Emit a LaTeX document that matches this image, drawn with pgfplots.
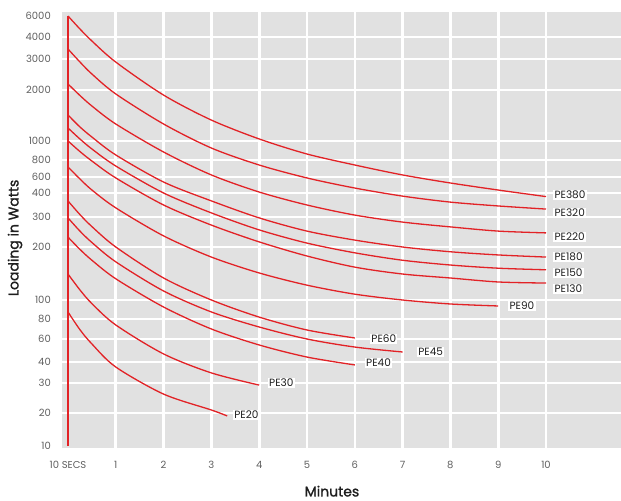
\documentclass[border=0pt]{standalone}
\usepackage{pgfplots}
\pgfplotsset{compat=1.18}
\usepackage{pgfplotstable}
\usepackage{fontspec}
\setmainfont{Poppins}
\newfontfamily\labelfont{Poppins}[FakeBold=1.2]

\definecolor{curve}{RGB}{226,34,38}
\definecolor{panel}{RGB}{225,225,225}
\definecolor{ticktext}{RGB}{95,95,95}
\definecolor{labeltext}{RGB}{30,30,30}

% loading (W) against time (min), one table per element
\pgfplotstableread{
t W
0 6000
0.25 4762
0.5 3818
1 2900
2 1900
3 1410
4 1040
5 863
6 741
7 624
8 525
9 437
10 385
}\peA
\pgfplotstableread{
t W
0 3455
0.25 2903
0.5 2516
1 1922
2 1333
3 926
4 741
5 588
6 462
7 387
8 362
9 346
10 333
}\peB
\pgfplotstableread{
t W
0 2194
0.25 1892
0.5 1686
1 1333
2 884
3 624
4 412
5 350
6 308
7 283
8 267
9 253
10 247
}\peC
\pgfplotstableread{
t W
0 1510
0.25 1275
0.5 1078
1 853
2 537
3 367
4 297
5 253
6 223
7 200
8 191
9 185
10 181
}\peD
\pgfplotstableread{
t W
0 1255
0.25 1039
0.5 916
1 729
2 400
3 317
4 257
5 213
6 189
7 175
8 166
9 160
10 157
}\peE
\pgfplotstableread{
t W
0 1000
0.25 889
0.5 788
1 588
2 350
3 273
4 217
5 183
6 162
7 149
8 141.5
9 134
10 132
}\peF
\pgfplotstableread{
t W
0 718
0.25 575
0.5 437.5
1 338
2 237
3 181
4 151
5 128
6 111
7 100
8 95.8
9 93.7
}\peG
\pgfplotstableread{
t W
0 367
0.25 310
0.5 268
1 200
2 141.5
3 100
4 82
5 69
6 61
}\peH
\pgfplotstableread{
t W
0 297
0.25 253
0.5 215
1 172
2 117
3 87.4
4 72
5 60
6 53
7 48.7
}\peI
\pgfplotstableread{
t W
0 233
0.25 195.5
0.5 175
1 140
2 92.6
3 70
4 54.8
5 44.3
6 38.6
}\peJ
\pgfplotstableread{
t W
0 149
0.25 119
0.5 96.2
1 74
2 47
3 34.8
4 29.3
}\peK
\pgfplotstableread{
t W
0 87.4
0.25 69.3
0.5 55.7
1 37.6
2 26.3
3 21
3.33 19.1
}\peL
\pgfplotstableread{
t W
0 10
0 6000
}\axisline

\begin{document}
\begin{tikzpicture}[
  % the printed scale is uneven: piecewise linear between the labelled values
  declare function={wpos(\w)=3.3*(min(max(\w,10),20)-10)+3*(min(max(\w,20),30)-20)
    +2.1*(min(max(\w,30),40)-30)+1.15*(min(max(\w,40),60)-40)
    +1*(min(max(\w,60),80)-60)+0.95*(min(max(\w,80),100)-80)
    +0.53*(min(max(\w,100),200)-100)+0.3*(min(max(\w,200),300)-200)
    +0.24*(min(max(\w,300),400)-300)+0.08*(min(max(\w,400),600)-400)
    +0.085*(min(max(\w,600),800)-600)+0.095*(min(max(\w,800),1000)-800)
    +0.051*(min(max(\w,1000),2000)-1000)+0.031*(min(max(\w,2000),3000)-2000)
    +0.022*(min(max(\w,3000),4000)-3000)+0.0105*(min(max(\w,4000),6000)-4000);},
  pelabel/.style={anchor=west, fill=white, inner sep=1.2bp, text=labeltext,
    font=\fontsize{10.5bp}{12bp}\selectfont},
]
\begin{axis}[
  scale only axis,
  width=559bp, height=436bp,
  xmin=-0.1255, xmax=11.569,
  ymin=-2, ymax=434,
  axis line style={draw=none},
  axis background/.style={fill=panel},
  major tick length=0pt,
  xtick={1,2,3,4,5,6,7,8,9,10},
  xticklabels={1,2,3,4,5,6,7,8,9,10},
  extra x ticks={0},
  extra x tick labels={10 SECS},
  extra x tick style={grid=none},
  ytick={33,63,84,107,127,146,199,229,253,269,286,305,356,387,409},
  yticklabels={20,30,40,60,80,100,200,300,400,600,800,1000,2000,3000,4000},
  extra y ticks={0,430},
  extra y tick labels={10,6000},
  extra y tick style={grid=none},
  grid=major,
  major grid style={white, line width=2.6bp},
  xticklabel style={anchor=center, yshift=-17bp, text=ticktext,
    font=\fontsize{10bp}{12bp}\selectfont},
  yticklabel style={anchor=east, inner sep=0pt, xshift=-11bp, text=ticktext,
    font=\fontsize{10bp}{12bp}\selectfont},
  xlabel={Minutes},
  ylabel={Loading in Watts},
  xlabel style={at={(rel axis cs:0.483,-0.099)}, anchor=center, text=labeltext,
    font=\labelfont\fontsize{14bp}{16bp}\selectfont},
  ylabel style={at={(rel axis cs:-0.084,0.482)}, anchor=center, text=labeltext,
    font=\labelfont\fontsize{14bp}{16bp}\selectfont},
  every axis plot/.append style={curve, line width=1.3bp, line join=round},
]
\addplot[sharp plot] table[x=t, y expr={wpos(\thisrow{W})}] {\axisline};
\addplot[smooth] table[x=t, y expr={wpos(\thisrow{W})}] {\peA};
\addplot[smooth] table[x=t, y expr={wpos(\thisrow{W})}] {\peB};
\addplot[smooth] table[x=t, y expr={wpos(\thisrow{W})}] {\peC};
\addplot[smooth] table[x=t, y expr={wpos(\thisrow{W})}] {\peD};
\addplot[smooth] table[x=t, y expr={wpos(\thisrow{W})}] {\peE};
\addplot[smooth] table[x=t, y expr={wpos(\thisrow{W})}] {\peF};
\addplot[smooth] table[x=t, y expr={wpos(\thisrow{W})}] {\peG};
\addplot[smooth] table[x=t, y expr={wpos(\thisrow{W})}] {\peH};
\addplot[smooth] table[x=t, y expr={wpos(\thisrow{W})}] {\peI};
\addplot[smooth] table[x=t, y expr={wpos(\thisrow{W})}] {\peJ};
\addplot[smooth] table[x=t, y expr={wpos(\thisrow{W})}] {\peK};
\addplot[smooth] table[x=t, y expr={wpos(\thisrow{W})}] {\peL};

\node[pelabel] at (axis cs:10.15,251) {PE380};
\node[pelabel] at (axis cs:10.15,233) {PE320};
\node[pelabel] at (axis cs:10.15,209) {PE220};
\node[pelabel] at (axis cs:10.15,189) {PE180};
\node[pelabel] at (axis cs:10.15,173) {PE150};
\node[pelabel] at (axis cs:10.15,157) {PE130};
\node[pelabel] at (axis cs:9.21,140) {PE90};
\node[pelabel] at (axis cs:6.32,107) {PE60};
\node[pelabel] at (axis cs:7.30,94) {PE45};
\node[pelabel] at (axis cs:6.21,83) {PE40};
\node[pelabel] at (axis cs:4.18,63) {PE30};
\node[pelabel] at (axis cs:3.45,31) {PE20};
\end{axis}
\pgfresetboundingbox
\useasboundingbox (-62bp,-53bp) rectangle (559bp,448bp);
\end{tikzpicture}
\end{document}
